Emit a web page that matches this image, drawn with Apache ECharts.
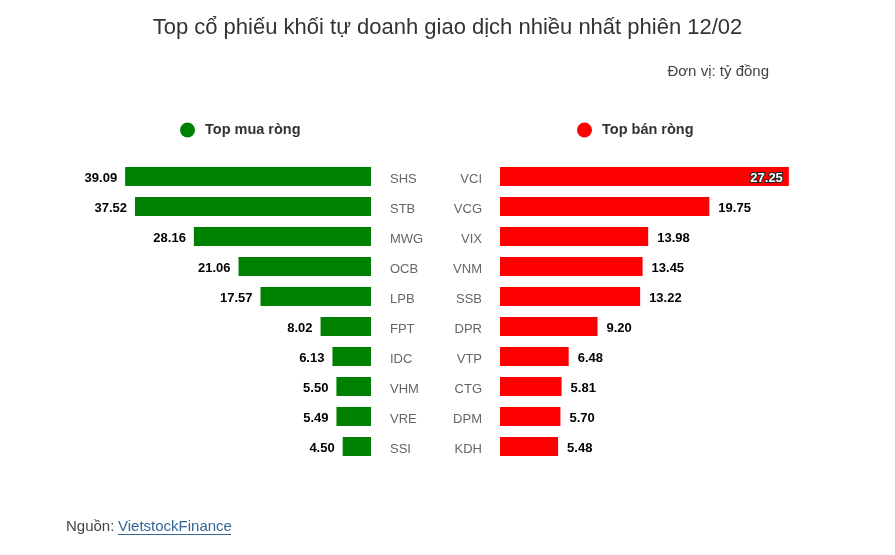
<!DOCTYPE html>
<html>
<head>
<meta charset="utf-8">
<script src="https://cdn.jsdelivr.net/npm/echarts@6/dist/echarts.min.js"></script>
<style>
  html, body { margin: 0; padding: 0; background: #fff; }
  #chart { width: 895px; height: 555px; }
</style>
</head>
<body>
<div id="chart"></div>
<script>
// Top mua rong (net buy)
const buyCodes = ['SHS', 'STB', 'MWG', 'OCB', 'LPB', 'FPT', 'IDC', 'VHM', 'VRE', 'SSI'];
const buyValues = [39.09, 37.52, 28.16, 21.06, 17.57, 8.02, 6.13, 5.50, 5.49, 4.50];
// Top ban rong (net sell)
const sellCodes = ['VCI', 'VCG', 'VIX', 'VNM', 'SSB', 'DPR', 'VTP', 'CTG', 'DPM', 'KDH'];
const sellValues = [27.25, 19.75, 13.98, 13.45, 13.22, 9.20, 6.48, 5.81, 5.70, 5.48];

const chart = echarts.init(document.getElementById('chart'));
const FONT = '"Liberation Sans", Arial, sans-serif';

// category labels sit a little below the bar centre
const catLabel = {
    formatter: '{c|{value}}',
    rich: { c: { color: '#666', fontSize: 13, fontFamily: FONT, padding: [5, 0, 0, 0] } }
};
const valLabel = { color: '#000', fontSize: 13, fontWeight: 'bold', fontFamily: FONT };
const legendText = { color: '#333', fontSize: 14.5, fontWeight: 'bold', fontFamily: FONT, padding: [0, 0, 0, 5] };

const sellData = sellValues.map((v, i) => {
    if (i === 0) {
        // first bar is too long for an outside label
        return {
            value: v,
            label: {
                position: 'insideRight',
                distance: 6,
                color: '#fff',
                textBorderColor: '#222',
                textBorderWidth: 2
            }
        };
    }
    return v;
});

const option = {
    backgroundColor: '#fff',
    animation: false,
    title: {
        text: 'Top cổ phiếu khối tự doanh giao dịch nhiều nhất phiên 12/02',
        left: 'center',
        top: 12,
        textStyle: { color: '#333', fontSize: 22, fontWeight: 'normal', fontFamily: FONT }
    },
    legend: [
        {
            data: ['Top mua ròng'],
            left: 180,
            top: 122.5,
            padding: 0,
            icon: 'circle',
            itemWidth: 15,
            itemHeight: 15,
            textStyle: legendText
        },
        {
            data: ['Top bán ròng'],
            left: 577,
            top: 122.5,
            padding: 0,
            icon: 'circle',
            itemWidth: 15,
            itemHeight: 15,
            textStyle: legendText
        }
    ],
    grid: [
        { left: 56.5, right: 524, top: 161.5, height: 300 },
        { left: 500, right: 77, top: 161.5, height: 300 }
    ],
    xAxis: [
        { gridIndex: 0, type: 'value', min: 0, max: 50, inverse: true, show: false },
        { gridIndex: 1, type: 'value', min: 0, max: 30, show: false }
    ],
    yAxis: [
        {
            gridIndex: 0, type: 'category', data: buyCodes, inverse: true, position: 'right',
            axisLine: { show: false }, axisTick: { show: false }, splitLine: { show: false },
            axisLabel: Object.assign({ margin: 19, align: 'left' }, catLabel)
        },
        {
            gridIndex: 1, type: 'category', data: sellCodes, inverse: true, position: 'left',
            axisLine: { show: false }, axisTick: { show: false }, splitLine: { show: false },
            axisLabel: Object.assign({ margin: 18, align: 'right' }, catLabel)
        }
    ],
    series: [
        {
            name: 'Top mua ròng',
            type: 'bar',
            xAxisIndex: 0,
            yAxisIndex: 0,
            data: buyValues,
            barWidth: 19,
            itemStyle: { color: '#008000' },
            label: Object.assign({
                show: true, position: 'left', distance: 8, offset: [0, 2],
                formatter: p => p.value.toFixed(2)
            }, valLabel)
        },
        {
            name: 'Top bán ròng',
            type: 'bar',
            xAxisIndex: 1,
            yAxisIndex: 1,
            data: sellData,
            barWidth: 19,
            itemStyle: { color: '#ff0000' },
            label: Object.assign({
                show: true, position: 'right', distance: 9, offset: [0, 2],
                formatter: p => p.value.toFixed(2)
            }, valLabel)
        }
    ],
    graphic: [
        {
            type: 'text',
            right: 126,
            top: 64,
            style: { text: 'Đơn vị: tỷ đồng', fill: '#444', fontSize: 15, fontFamily: FONT }
        },
        {
            type: 'group',
            left: 66,
            top: 519,
            children: [
                {
                    type: 'text',
                    style: { text: 'Nguồn:', fill: '#444', fontSize: 15, fontFamily: FONT }
                },
                {
                    type: 'text',
                    x: 52,
                    style: { text: 'VietstockFinance', fill: '#336699', fontSize: 15, fontFamily: FONT }
                },
                {
                    type: 'line',
                    shape: { x1: 52, y1: 15.5, x2: 165, y2: 15.5 },
                    style: { stroke: '#336699', lineWidth: 1 }
                }
            ]
        }
    ]
};

chart.setOption(option);
</script>
</body>
</html>
